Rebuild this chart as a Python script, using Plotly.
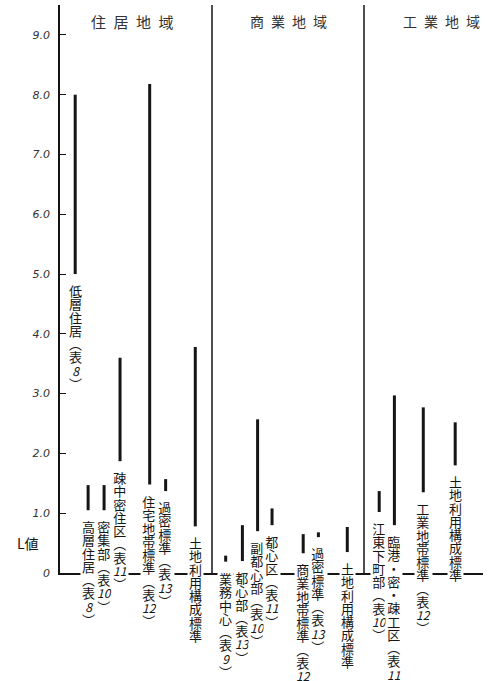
import plotly.graph_objects as go

# ---------------- data ----------------
labels = [
    "低層住居(表8)", "高層住居(表8)", "密集部(表10)", "疎中密住区(表11)",
    "住宅地帯標準(表12)", "過密標準(表13)", "土地利用構成標準",
    "業務中心(表9)", "都心部(表13)", "副都心部(表10)", "都心区(表11)",
    "商業地帯標準(表12)", "過密標準(表13)", "土地利用構成標準",
    "江東下町部(表10)", "臨港・密・疎工区(表11)", "工業地帯標準(表12)", "土地利用構成標準",
]
low = [5.0, 1.05, 1.05, 1.87, 1.48, 1.37, 0.78,
       0.19, 0.20, 0.70, 0.80, 0.33, 0.60, 0.35,
       1.02, 0.80, 1.35, 1.80]
high = [8.0, 1.47, 1.47, 3.60, 8.18, 1.57, 3.78,
        0.29, 0.80, 2.57, 1.08, 0.65, 0.68, 0.77,
        1.37, 2.97, 2.77, 2.52]
sections = ["住居地域", "商業地域", "工業地域"]
tick_vals = [0, 1, 2, 3, 4, 5, 6, 7, 8, 9]
tick_text = ["0", "1.0", "2.0", "3.0", "4.0", "5.0", "6.0", "7.0", "8.0", "9.0"]
y_title = "L値"

# ---------------- layout (positions / styles) ----------------
x_slots = [1.0, 1.85, 2.9, 3.95, 5.9, 6.95, 8.9,
           10.9, 12.0, 13.0, 13.95, 16.0, 17.0, 18.9,
           21.0, 22.0, 23.9, 26.0]
dividers = [10, 20]
section_x = [4.8, 15.0, 25.1]
section_size = [15, 14, 14]

W, H = 488, 681
ML, MR, MT, MB = 60, 5, 5, 108
YMAX = 9.5
XMAX = (W - ML - MR) / 15.2

JP = "Noto Sans CJK JP"
INK = "#151515"
CHAR_PX = 13          # glyph size in the vertical labels
BASE_PX = 10.2        # base font -> line pitch = 1.3 * BASE_PX

fig = go.Figure()

# range bars
bx, by = [], []
for x, lo, hi in zip(x_slots, low, high):
    bx += [x, x, None]
    by += [lo, hi, None]
fig.add_trace(go.Scatter(x=bx, y=by, mode="lines",
                         line=dict(color=INK, width=3),
                         hoverinfo="skip", showlegend=False))


def tokens(s):
    out, i = [], 0
    while i < len(s):
        c = s[i]
        if c.isdigit():
            j = i
            while j < len(s) and s[j].isdigit():
                j += 1
            out.append(s[i:j])
            i = j
        else:
            out.append(c)
            i += 1
    return out


VMAP = {"(": "︵", ")": "︶"}


def vertical(s):
    lines = []
    for t in tokens(s):
        if t.isdigit():
            lines.append(f"<span style='font-size:{CHAR_PX - 1}px'><i>{t}</i></span>")
        else:
            lines.append(f"<span style='font-size:{CHAR_PX}px'>{VMAP.get(t, t)}</span>")
    return "<br>".join(lines)


annotations = []
for x, lo, lab in zip(x_slots, low, labels):
    annotations.append(dict(
        x=x, y=lo, xref="x", yref="y", text=vertical(lab), showarrow=False,
        xanchor="center", yanchor="top", yshift=-5, align="center",
        bgcolor="white", borderpad=1,
        font=dict(family=JP, size=BASE_PX, color=INK)))

for name, sx, fs in zip(sections, section_x, section_size):
    annotations.append(dict(
        x=sx, y=9.23, xref="x", yref="y", text="\u2002".join(name),
        showarrow=False, xanchor="center", yanchor="middle",
        font=dict(family=JP, size=fs, color="#333333")))

annotations.append(dict(
    x=-32 / (W - ML - MR), y=0.5, xref="paper", yref="y", text=y_title,
    showarrow=False, xanchor="center", yanchor="middle",
    font=dict(family=JP, size=14, color=INK)))

shapes = [dict(type="line", xref="x", yref="y", x0=d, x1=d, y0=0, y1=YMAX,
               line=dict(color=INK, width=1.5)) for d in dividers]

fig.update_layout(
    width=W, height=H,
    margin=dict(l=ML, r=MR, t=MT, b=MB),
    paper_bgcolor="white", plot_bgcolor="white",
    showlegend=False,
    xaxis=dict(range=[0, XMAX], showgrid=False, zeroline=False,
               showline=True, linecolor=INK, linewidth=1.5,
               showticklabels=False, ticks=""),
    yaxis=dict(range=[0, YMAX], showgrid=False, zeroline=False,
               showline=True, linecolor=INK, linewidth=1.5,
               tickvals=tick_vals, ticktext=tick_text,
               ticks="inside", ticklen=6, tickwidth=1, tickcolor=INK,
               ticklabelstandoff=6,
               tickfont=dict(family="DejaVu Sans", size=11, color="#333333",
                             style="italic")),
    annotations=annotations,
    shapes=shapes,
)

fig.write_html("out.html", config={"displayModeBar": False},
               post_script="document.body.style.margin='0';")
